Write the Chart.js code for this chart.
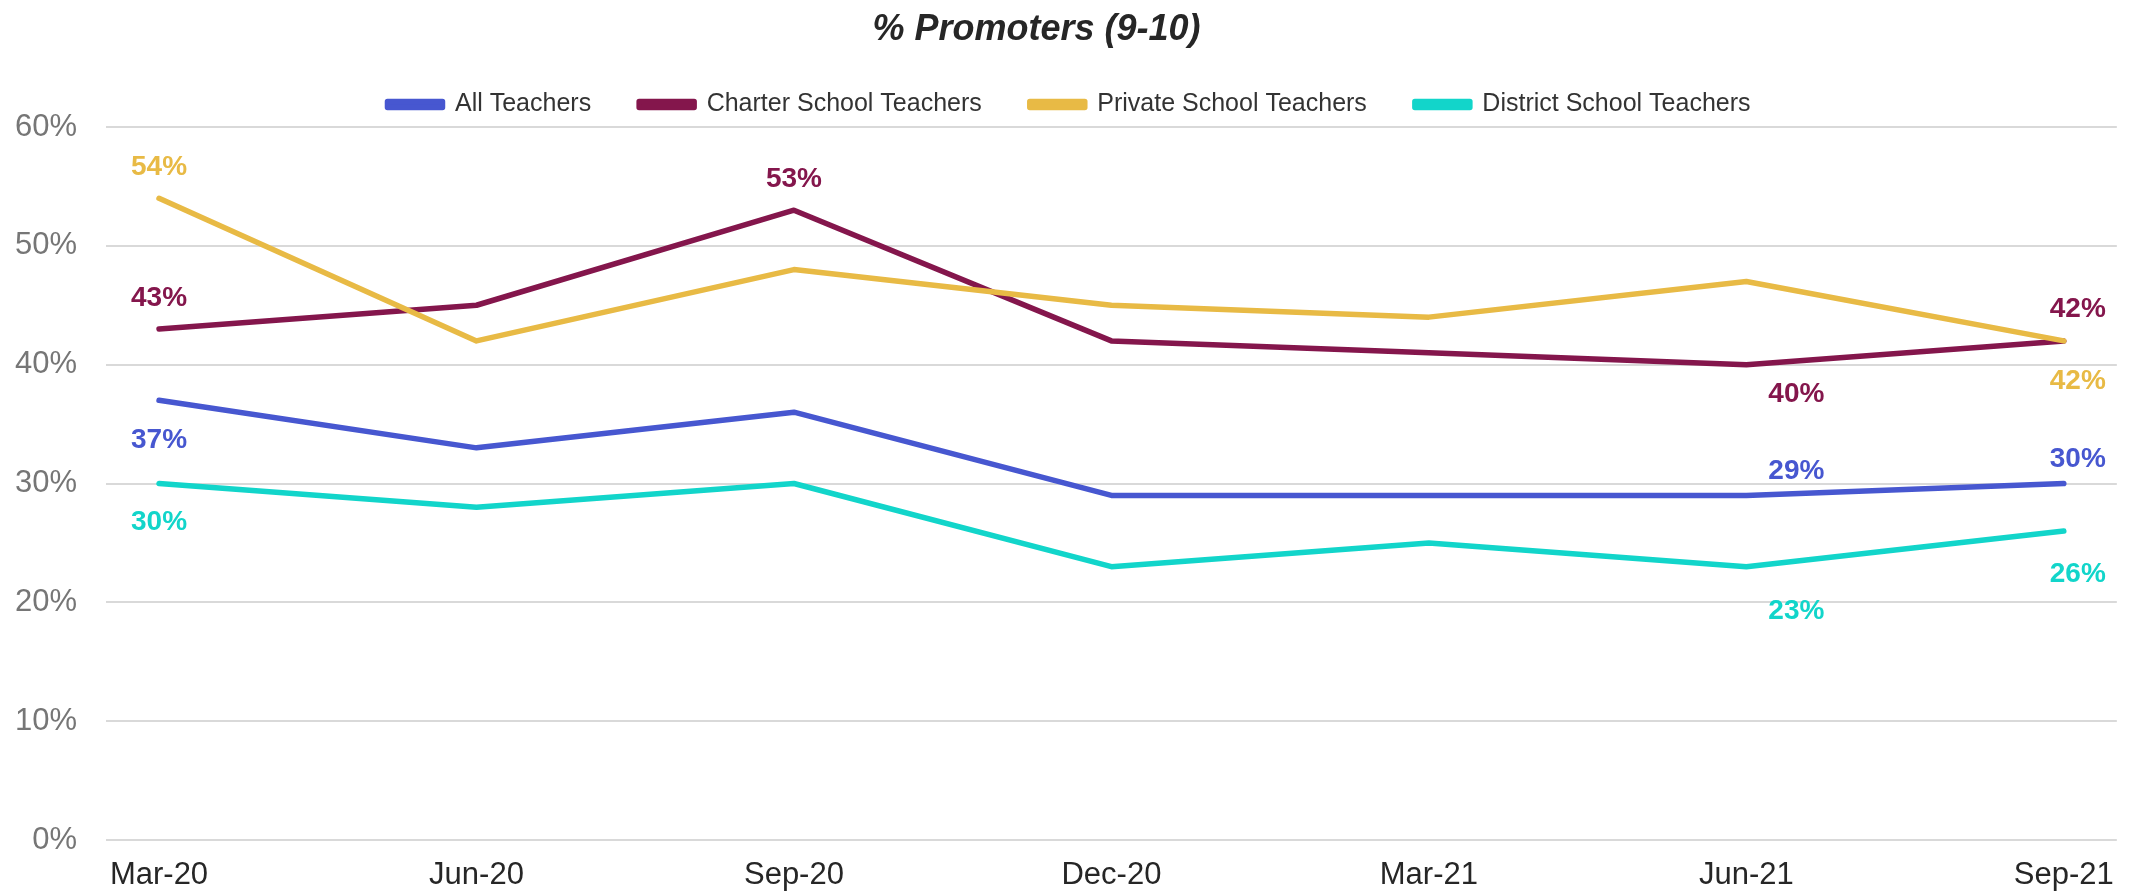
<!DOCTYPE html>
<html>
<head>
<meta charset="utf-8">
<title>% Promoters (9-10)</title>
<script src="https://cdn.jsdelivr.net/npm/chart.js@4.4.1/dist/chart.umd.min.js"></script>
<style>
  html, body { margin: 0; padding: 0; background: #fff; }
  #wrap { position: relative; width: 2131px; height: 896px; }
</style>
</head>
<body>
<div id="wrap"><canvas id="promotersChart"></canvas></div>
<script>
// ---- data ----
const categories = ['Mar-20', 'Jun-20', 'Sep-20', 'Dec-20', 'Mar-21', 'Jun-21', 'Sep-21'];
const seriesNames = ['All Teachers', 'Charter School Teachers', 'Private School Teachers', 'District School Teachers'];
const allTeachers = [37, 33, 36, 29, 29, 29, 30];
const charterTeachers = [43, 45, 53, 42, 41, 40, 42];
const privateTeachers = [54, 42, 48, 45, 44, 47, 42];
const districtTeachers = [30, 28, 30, 23, 25, 23, 26];
const yTicks = [0, 10, 20, 30, 40, 50, 60];

const seriesColors = ['#4757d0', '#84164c', '#e8ba45', '#12d5ca'];
const FONT = "'Liberation Sans', Arial, sans-serif";

// which points get a value label: [pointIndex, dx, dy] per series
const labelSpots = [
    [[0, 0, 40], [5, 50, -24], [6, 14, -24]],
    [[0, 0, -31], [2, 0, -31], [5, 50, 30], [6, 14, -32]],
    [[0, 0, -31], [6, 14, 40]],
    [[0, 0, 39], [5, 50, 45], [6, 14, 43]]
];

const seriesValues = [allTeachers, charterTeachers, privateTeachers, districtTeachers];

// ---- plugins ----
const titlePlugin = {
    id: 'offsetTitle',
    afterDraw(chart) {
        const ctx = chart.ctx;
        ctx.save();
        ctx.font = 'italic bold 36px ' + FONT;
        ctx.fillStyle = '#262626';
        ctx.textAlign = 'center';
        ctx.textBaseline = 'middle';
        ctx.fillText('% Promoters (9-10)', chart.width / 2 - 29, 30);
        ctx.restore();
    }
};

const valueLabels = {
    id: 'valueLabels',
    afterDatasetsDraw(chart) {
        const ctx = chart.ctx;
        ctx.save();
        ctx.font = 'bold 28px ' + FONT;
        ctx.textAlign = 'center';
        ctx.textBaseline = 'middle';
        labelSpots.forEach((spots, d) => {
            const meta = chart.getDatasetMeta(d);
            ctx.fillStyle = seriesColors[d];
            spots.forEach(([i, dx, dy]) => {
                const pt = meta.data[i];
                ctx.fillText(seriesValues[d][i] + '%', pt.x + dx, pt.y + dy);
            });
        });
        ctx.restore();
    }
};

// ---- chart ----
const datasets = seriesValues.map((vals, d) => ({
    label: seriesNames[d],
    data: vals.map((v, i) => ({ x: i, y: v })),
    borderColor: seriesColors[d],
    backgroundColor: seriesColors[d],
    borderWidth: 5.5,
    borderCapStyle: 'round',
    borderJoinStyle: 'round',
    pointRadius: 0,
    tension: 0,
    order: seriesValues.length - d
}));

new Chart(document.getElementById('promotersChart'), {
    type: 'line',
    data: { datasets },
    options: {
        responsive: true,
        maintainAspectRatio: false,
        animation: false,
        layout: { padding: { top: 44, left: 15, right: 8, bottom: 0 } },
        plugins: {
            title: { display: false },
            tooltip: { enabled: false },
            legend: {
                position: 'top',
                labels: {
                    sort: (a, b) => a.datasetIndex - b.datasetIndex,
                    boxWidth: 55,
                    boxHeight: 6,
                    padding: 48,
                    color: '#333333',
                    font: { family: FONT, size: 25 }
                }
            }
        },
        scales: {
            x: {
                type: 'linear',
                min: -0.167,
                max: 6.167,
                afterBuildTicks: scale => {
                    scale.ticks = categories.map((c, i) => ({ value: i }));
                },
                afterFit: scale => { scale.height = 56; },
                grid: { display: false, drawTicks: false },
                border: { display: false },
                ticks: {
                    autoSkip: false,
                    maxRotation: 0,
                    padding: 17,
                    color: '#262626',
                    font: { family: FONT, size: 31 },
                    callback: v => categories[v]
                }
            },
            y: {
                min: 0,
                max: 60,
                afterBuildTicks: scale => {
                    scale.ticks = yTicks.map(v => ({ value: v }));
                },
                afterFit: scale => { scale.width = 91; },
                grid: { color: '#d9d9d9', lineWidth: 2, drawTicks: false },
                border: { display: false },
                ticks: {
                    padding: 29,
                    color: '#767676',
                    font: { family: FONT, size: 31 },
                    callback: v => v + '%'
                }
            }
        }
    },
    plugins: [titlePlugin, valueLabels]
});
</script>
</body>
</html>
